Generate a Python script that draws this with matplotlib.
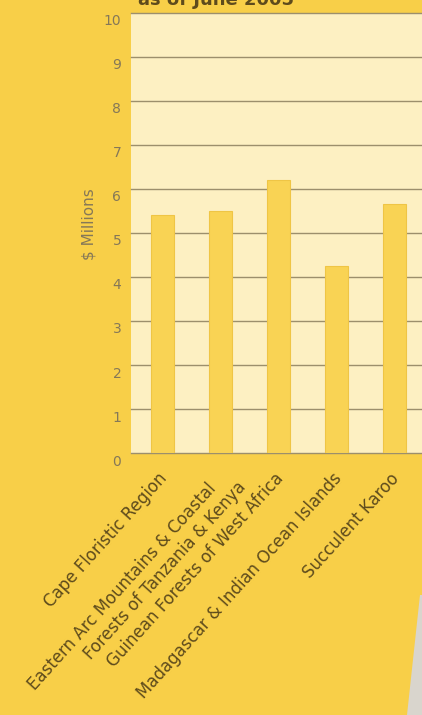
import matplotlib.pyplot as plt
import matplotlib.transforms as mtransforms
from matplotlib.patches import Polygon

regions = ["Cape Floristic Region",
           "Eastern Arc Mountains & Coastal    \nForests of Tanzania & Kenya",
           "Guinean Forests of West Africa",
           "Madagascar & Indian Ocean Islands",
           "Succulent Karoo"]
funds = [5.4, 5.5, 6.2, 4.25, 5.65]  # $ millions
yticks = list(range(0, 11))

bg = '#f8cf48'
cream = '#fdf0c2'
bar_color = '#f9d354'
grid_color = '#9c8f6c'
label_color = '#5e4b1c'
tick_color = '#857858'

fig = plt.figure(figsize=(4.22, 7.15), dpi=100, facecolor=bg)
ax = fig.add_axes([131 / 422, 262 / 715, 1 - 131 / 422, 440 / 715])
ax.set_facecolor(cream)

x = list(range(len(regions)))
ax.bar(x, funds, width=0.4, color=bar_color, edgecolor='#efc545', linewidth=0.8, zorder=3)

ax.set_xlim(-0.55, 4.47)
ax.set_ylim(0, 10)
ax.set_yticks(yticks)
ax.set_yticklabels([str(t) for t in yticks], fontsize=10, color=tick_color)
ax.yaxis.grid(True, color=grid_color, linewidth=1.0, zorder=0)
ax.set_axisbelow(True)
for line in ax.get_ygridlines():
    line.set_clip_on(False)
for s in ax.spines.values():
    s.set_visible(False)
ax.tick_params(axis='both', length=0)
ax.tick_params(axis='y', pad=7)

# y labels sit a little below their grid lines
off = mtransforms.ScaledTranslation(0, -7 / 100, fig.dpi_scale_trans)
for lab in ax.get_yticklabels():
    lab.set_transform(lab.get_transform() + off)

ax.set_xticks(x)
ax.set_xticklabels(regions, rotation=48, ha='right', va='top', rotation_mode='anchor',
                   fontsize=12, color=label_color, multialignment='right')
ax.tick_params(axis='x', pad=12)
for i, lab in enumerate(ax.get_xticklabels()):
    dx, dy = (-5, 0) if i != 1 else (0, 6)
    shift = mtransforms.ScaledTranslation(dx / 100, dy / 100, fig.dpi_scale_trans)
    lab.set_transform(lab.get_transform() + shift)

ax.set_ylabel('$ Millions', fontsize=11, color=tick_color)
ax.yaxis.set_label_coords(-0.12, 0.52)

# title cut off at top of the page
fig.text(216 / 422, 1 - 5 / 715, 'as of June 2005', ha='center', va='baseline',
         fontsize=13, fontweight='bold', color=label_color)

# page edge in the bottom right corner
fig.patches.append(Polygon([(420 / 422, 120 / 715), (1, 120 / 715), (1, 0), (407 / 422, 0)],
                           closed=True, transform=fig.transFigure, facecolor='#d9d5cd',
                           edgecolor='none'))

fig.savefig('out.png', dpi=100, facecolor=bg)
